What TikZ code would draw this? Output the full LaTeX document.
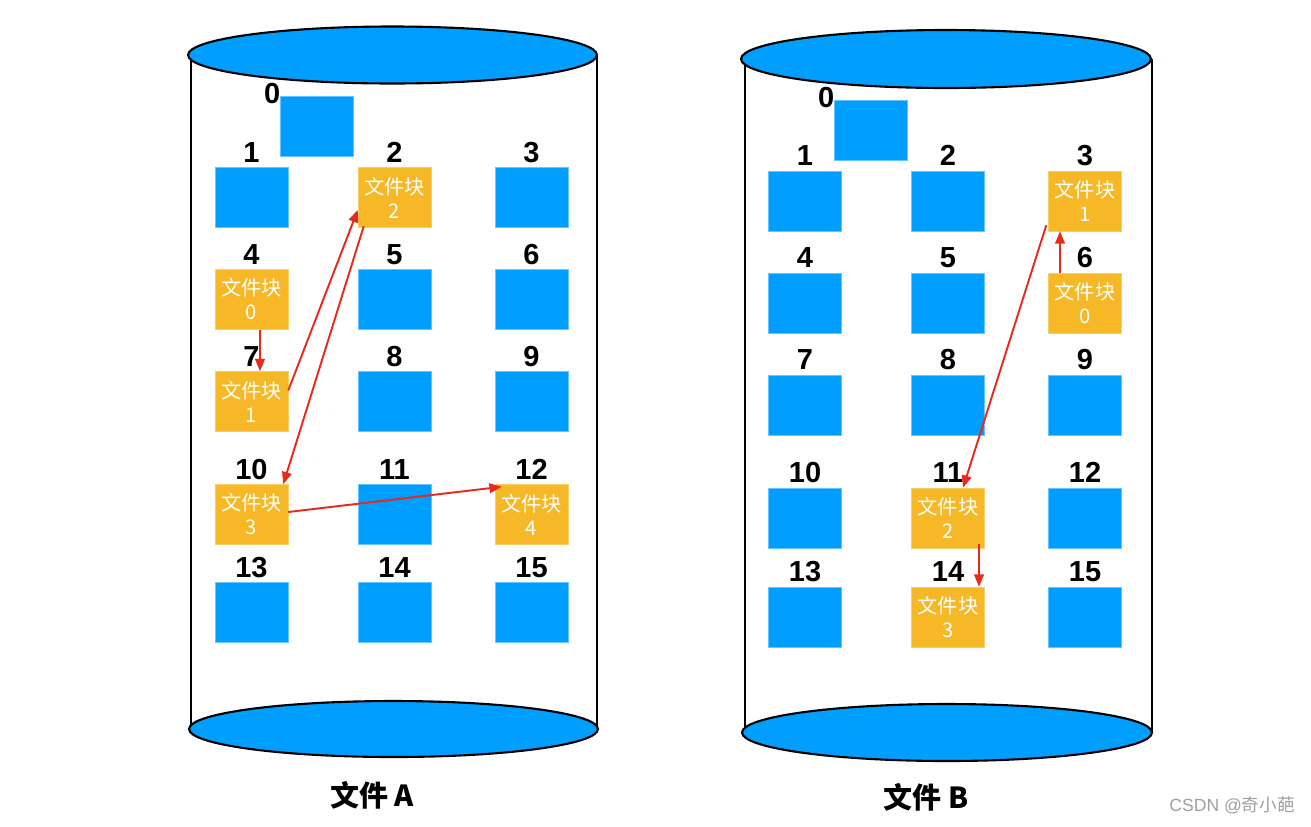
\documentclass[tikz,border=0pt]{standalone}
\usepackage{fontspec}
\setmainfont{Liberation Sans}
\newfontfamily\cjk{Noto Sans CJK SC}
\usetikzlibrary{arrows.meta}
\definecolor{diskblue}{RGB}{0,159,255}
\definecolor{chunkorange}{RGB}{246,184,38}
\definecolor{linkred}{RGB}{232,42,26}
\begin{document}
\begin{tikzpicture}[
    x=0.02cm, y=-0.02cm,
    label distance=0.09cm,
    block/.style={fill=diskblue, draw=diskblue!60!white, line width=0.3pt, inner sep=0pt,
                  minimum width=1.46cm, minimum height=1.2cm},
    chunk/.style={block, fill=chunkorange, draw=chunkorange!70!white, text=white, align=center,
                  font=\cjk\fontsize{11.5}{13.6}\selectfont},
    num/.style={font=\bfseries\fontsize{16.5}{18}\selectfont, inner sep=0pt},
    side/.style={line width=1pt},
    lid/.style={fill=diskblue, draw=black, line width=1.2pt},
    link/.style={-{Triangle[length=7pt,width=5.5pt]}, line width=1.1pt, draw=linkred}
]
\useasboundingbox (0,0) rectangle (1311,826);

% file A
\draw[side] (191,55) -- (191,729) (597,55) -- (597,729);
\draw[lid] (392.5,55) ellipse [x radius=4.09cm, y radius=0.57cm];
\draw[lid] (393.5,729) ellipse [x radius=4.09cm, y radius=0.56cm];

\node[block] (a0) at (316.5,126.5) [label={[num, anchor=center, xshift=-0.08cm, yshift=-0.01cm]north west:0}] {};
\node[block] (a1) at (251.5,197.5) [label={[num]above:1}] {};
\node[chunk] (a2) at (394.5,197.5) [label={[num]above:2}] {文件块\\2};
\node[block] (a3) at (531.5,197.5) [label={[num]above:3}] {};
\node[chunk] (a4) at (251.5,299.5) [label={[num]above:4}] {文件块\\0};
\node[block] (a5) at (394.5,299.5) [label={[num]above:5}] {};
\node[block] (a6) at (531.5,299.5) [label={[num]above:6}] {};
\node[chunk] (a7) at (251.5,401.5) [label={[num]above:7}] {文件块\\1};
\node[block] (a8) at (394.5,401.5) [label={[num]above:8}] {};
\node[block] (a9) at (531.5,401.5) [label={[num]above:9}] {};
\node[chunk] (a10) at (251.5,514.5) [label={[num]above:10}] {文件块\\3};
\node[block] (a11) at (394.5,514.5) [label={[num]above:11}] {};
\node[chunk] (a12) at (531.5,514.5) [label={[num]above:12}] {文件块\\4};
\node[block] (a13) at (251.5,612.5) [label={[num]above:13}] {};
\node[block] (a14) at (394.5,612.5) [label={[num]above:14}] {};
\node[block] (a15) at (531.5,612.5) [label={[num]above:15}] {};

\draw[link] ([xshift=0.17cm]a4.south) -- ([xshift=0.17cm]a7.north);
\draw[link] ([yshift=0.22cm]a7.east) -- ([yshift=-0.25cm]a2.west);
\draw[link] ([xshift=0.12cm,yshift=0.03cm]a2.south west) -- ([xshift=-0.1cm]a10.north east);
\draw[link] ([yshift=0.05cm]a10.east) -- ([xshift=0.14cm,yshift=-0.05cm]a12.north west);

\node[font=\cjk\bfseries\fontsize{16.5}{18}\selectfont] (fa) at (372,795) {文件 A};

% file B
\draw[side] (745,59) -- (745,732.5) (1152,59) -- (1152,732.5);
\draw[lid] (946,59) ellipse [x radius=4.1cm, y radius=0.58cm];
\draw[lid] (947,732.5) ellipse [x radius=4.1cm, y radius=0.57cm];

\node[block] (b0) at (870.5,130) [label={[num, anchor=center, xshift=-0.08cm, yshift=-0.01cm]north west:0}] {};
\node[block] (b1) at (805,201) [label={[num]above:1}] {};
\node[block] (b2) at (948,201) [label={[num]above:2}] {};
\node[chunk] (b3) at (1085,201) [label={[num]above:3}] {文件块\\1};
\node[block] (b4) at (805,303) [label={[num]above:4}] {};
\node[block] (b5) at (948,303) [label={[num]above:5}] {};
\node[chunk] (b6) at (1085,303) [label={[num]above:6}] {文件块\\0};
\node[block] (b7) at (805,405) [label={[num]above:7}] {};
\node[block] (b8) at (948,405) [label={[num]above:8}] {};
\node[block] (b9) at (1085,405) [label={[num]above:9}] {};
\node[block] (b10) at (805,518) [label={[num]above:10}] {};
\node[chunk] (b11) at (948,518) [label={[num]above:11}] {文件块\\2};
\node[block] (b12) at (1085,518) [label={[num]above:12}] {};
\node[block] (b13) at (805,617) [label={[num]above:13}] {};
\node[chunk] (b14) at (948,617) [label={[num]above:14}] {文件块\\3};
\node[block] (b15) at (1085,617) [label={[num]above:15}] {};

\draw[link] ([xshift=-0.5cm]b6.north) -- ([xshift=-0.5cm]b3.south);
\draw[link] ([xshift=-0.04cm,yshift=0.12cm]b3.south west) -- ([xshift=0.3cm]b11.north);
\draw[link] ([xshift=0.62cm,yshift=0.08cm]b11.south) -- ([xshift=0.62cm]b14.north);

\node[font=\cjk\bfseries\fontsize{16.5}{18}\selectfont] (fb) at (926,797) {文件 B};

\node[text=gray!75, font=\fontsize{10}{12}\selectfont, anchor=east, inner sep=0pt] (mark) at (1295,805) {CSDN @{\cjk 奇小葩}};
\end{tikzpicture}
\end{document}
